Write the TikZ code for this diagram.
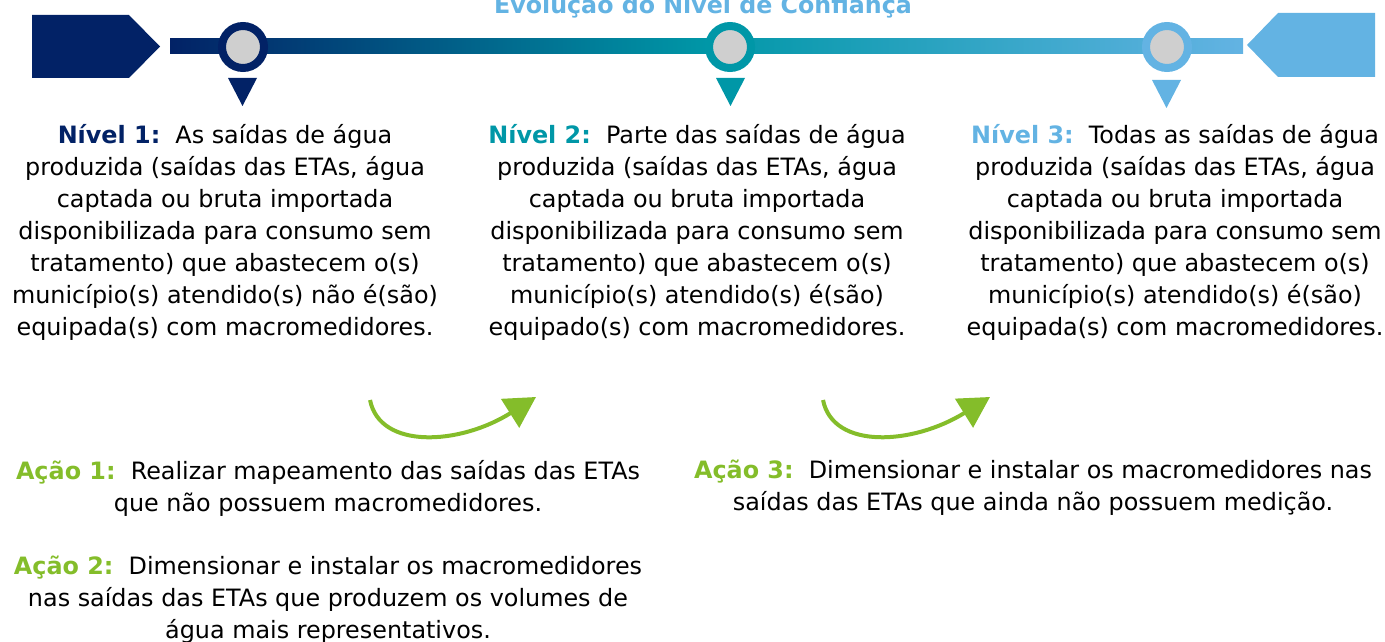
\documentclass[tikz,border=0pt]{standalone}
\usepackage{fontspec}
\setmainfont{DejaVu Sans}
\usepackage{tikz}
\usetikzlibrary{positioning,arrows.meta,calc}
\definecolor{nvNavy}{HTML}{022266}
\definecolor{nvTeal}{HTML}{0097A7}
\definecolor{nvLight}{HTML}{63B3E3}
\definecolor{nvGray}{HTML}{CFCFCF}
\definecolor{acGreen}{HTML}{84BD2A}
\tikzset{
  marker/.style={circle,draw=#1,fill=nvGray,line width=6pt,minimum size=31.5pt,inner sep=0pt},
  pin/.style={fill=#1},
  leveltext/.style={align=center,font=\fontsize{17.9}{24}\selectfont,inner sep=0pt},
  actiontext/.style={align=center,font=\fontsize{17.9}{24}\selectfont,inner sep=0pt},
  curvearrow/.style={-{Triangle[length=23pt,width=25pt]},line width=3pt,draw=acGreen}
}

\begin{document}
\begin{tikzpicture}[x=0.75pt,y=-0.75pt]
  \useasboundingbox (0,0) rectangle (1385,642);

  % end pieces and bar
  \fill[nvNavy] (32,15) -- (129,15) -- (160,46.5) -- (129,78) -- (32,78) -- cycle;
  \fill[nvLight] (1375,13) -- (1278,13) -- (1247,45) -- (1278,77) -- (1375,77) -- cycle;
  \shade[left color=nvNavy,right color=nvLight,middle color=nvTeal] (170,39) rectangle (1243,54);

  \node[anchor=base,font=\fontsize{17.8}{20}\selectfont\bfseries,text=nvLight] (title) at (703,14) {Evolução do Nível de Confiança};

  % markers
  \node[marker=nvNavy] (m1) at (243,47) {};
  \node[marker=nvTeal] (m2) at (730,47) {};
  \node[marker=nvLight] (m3) at (1167,47) {};

  \fill[pin=nvNavy] (228,78) -- (257,78) -- (242.5,106) -- cycle;
  \fill[pin=nvTeal] (716,78) -- (745,78) -- (730.5,106) -- cycle;
  \fill[pin=nvLight] (1152,80) -- (1181,80) -- (1166.5,108) -- cycle;

  % levels
  \node[leveltext] (lv1) at (225,232) {\textcolor{nvNavy}{\textbf{Nível 1:}}\ \ As saídas de água\\produzida (saídas das ETAs, água\\captada ou bruta importada\\disponibilizada para consumo sem\\tratamento) que abastecem o(s)\\município(s) atendido(s) não é(são)\\equipada(s) com macromedidores.};
  \node[leveltext] (lv2) at (697,232) {\textcolor{nvTeal}{\textbf{Nível 2:}}\ \ Parte das saídas de água\\produzida (saídas das ETAs, água\\captada ou bruta importada\\disponibilizada para consumo sem\\tratamento) que abastecem o(s)\\município(s) atendido(s) é(são)\\equipado(s) com macromedidores.};
  \node[leveltext] (lv3) at (1175,232) {\textcolor{nvLight}{\textbf{Nível 3:}}\ \ Todas as saídas de água\\produzida (saídas das ETAs, água\\captada ou bruta importada\\disponibilizada para consumo sem\\tratamento) que abastecem o(s)\\município(s) atendido(s) é(são)\\equipada(s) com macromedidores.};

  % actions
  \node[actiontext] (ac1) at (328,488) {\textcolor{acGreen}{\textbf{Ação 1:}}\ \ Realizar mapeamento das saídas das ETAs\\que não possuem macromedidores.};
  \node[actiontext] (ac2) at (328,600) {\textcolor{acGreen}{\textbf{Ação 2:}}\ \ Dimensionar e instalar os macromedidores\\nas saídas das ETAs que produzem os volumes de\\água mais representativos.};
  \node[actiontext] (ac3) at (1033,488) {\textcolor{acGreen}{\textbf{Ação 3:}}\ \ Dimensionar e instalar os macromedidores nas\\saídas das ETAs que ainda não possuem medição.};

  \coordinate (s1) at (370,400);
  \coordinate (e1) at (536,397);
  \coordinate (s2) at (823,400);
  \coordinate (e2) at (990,397);
  \draw[curvearrow] (s1) .. controls (380,450) and (460,445) .. (e1);
  \draw[curvearrow] (s2) .. controls (833,450) and (913,445) .. (e2);
\end{tikzpicture}
\end{document}
